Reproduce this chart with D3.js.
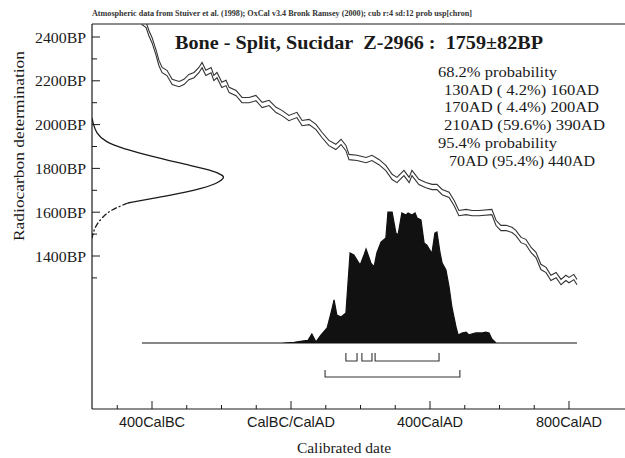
<!DOCTYPE html>
<html><head><meta charset="utf-8">
<script src="https://cdn.jsdelivr.net/npm/d3@7"></script>
<style>body{margin:0;background:#fff}svg{display:block}</style>
</head><body>
<svg id="c" width="625" height="458"></svg>
<script>
// ---- data ----
const curveYear = [-430,-417,-409,-400,-388,-380,-371,-357,-342,-322,-308,-294,-279,-265,-256,-245,-230,-222,-213,-199,-187,-178,-158,-141,-121,-101,-83,-63,-43,-26,-6,17,32,52,72,89,109,129,144,158,167,190,216,233,253,273,291,305,325,340,348,368,388,406,420,435,455,470,483,504,521,541,578,590,604,619,636,647,662,676,691,705,719,734,748,763,777,791,800,814,823];
const curveBP = [2470,2455,2418,2386,2327,2281,2249,2236,2195,2185,2195,2217,2226,2249,2272,2236,2249,2213,2226,2181,2190,2158,2144,2112,2112,2121,2090,2099,2067,2053,2030,2044,2007,2012,1989,1953,1916,1898,1921,1893,1852,1848,1838,1848,1829,1802,1761,1747,1779,1747,1779,1738,1724,1715,1715,1692,1679,1640,1596,1601,1596,1596,1601,1551,1528,1528,1519,1505,1473,1464,1427,1405,1350,1336,1300,1313,1281,1300,1290,1304,1281];
const curveSigma = 12;

const distYear = [-429,-26,9,32,49,60,72,86,104,115,124,132,144,158,164,170,181,199,210,216,230,239,247,259,273,279,291,302,308,319,331,337,348,357,363,374,383,391,403,406,414,420,429,435,446,455,463,475,481,492,504,512,532,547,561,570,578,590,823];
const distProb = [0,0,0.005,0.015,0.02,0.068,0.008,0.06,0.114,0.227,0.326,0.212,0.197,0.227,0.455,0.682,0.667,0.591,0.667,0.712,0.606,0.576,0.682,0.765,0.795,0.992,0.992,0.833,0.818,0.985,0.970,0.985,0.970,0.985,0.947,0.932,0.758,0.742,0.689,0.689,0.833,0.841,0.682,0.606,0.553,0.424,0.273,0.121,0.061,0.076,0.083,0.061,0.076,0.076,0.083,0.076,0.03,0,0];

const gaussBP = [2030,2007,1962,1921,1893,1852,1816,1793,1770,1757,1724,1692,1665,1642,1610,1578,1541,1505,1480];
const gaussProb = [0,0.008,0.03,0.1,0.22,0.47,0.72,0.89,0.98,1.0,0.92,0.72,0.47,0.27,0.14,0.08,0.03,0.008,0];

const range68 = [[158,190],[204,233],[242,426]];
const range95 = [[98,486]];

const xMajor = [-400,0,400,800];
const xMajorLabels = ["400CalBC","CalBC/CalAD","400CalAD","800CalAD"];
const xMinor = [-500,-300,-200,-100,100,200,300,500,600,700];
const yMajor = [2400,2200,2000,1800,1600,1400];
const yMajorLabels = ["2400BP","2200BP","2000BP","1800BP","1600BP","1400BP"];
const yMinor = [2300,2100,1900,1700,1500,1300];

const headerText = "Atmospheric data from Stuiver et al. (1998); OxCal v3.4 Bronk Ramsey (2000); cub r:4 sd:12 prob usp[chron]";
const titleText = "Bone - Split, Sucidar\u00a0\u00a0Z-2966 :\u00a0\u00a01759\u00b182BP";
const noteLines = ["68.2% probability","130AD ( 4.2%) 160AD","170AD ( 4.4%) 200AD","210AD (59.6%) 390AD","95.4% probability","70AD (95.4%) 440AD"];

// ---- layout ----
const svg = d3.select("#c");
const L = 92, T = 24, B = 409, R = 625;
const x = d3.scaleLinear().domain([-400,800]).range([152,569]);
const y = d3.scaleLinear().domain([2400,1400]).range([37,256]);
const gx = d3.scaleLinear().domain([0,1]).range([L,225]);
const py = d3.scaleLinear().domain([0,1]).range([343,211]);
const ink = "#1a1a1a";
const serif = "'Liberation Serif','Times New Roman',serif";
const sans = "'Liberation Sans',Arial,sans-serif";

svg.append("defs").append("clipPath").attr("id","clip")
  .append("rect").attr("x",L).attr("y",T).attr("width",R-L).attr("height",B-T);

// frame
svg.append("line").attr("x1",L).attr("x2",R).attr("y1",T).attr("y2",T).attr("stroke",ink).attr("stroke-width",1.2);
svg.append("line").attr("x1",L).attr("x2",L).attr("y1",T).attr("y2",B).attr("stroke",ink).attr("stroke-width",1.2);
svg.append("line").attr("x1",L).attr("x2",R).attr("y1",B).attr("y2",B).attr("stroke",ink).attr("stroke-width",1.2);

// y ticks (inside)
svg.selectAll(".ymj").data(yMajor).enter().append("line")
  .attr("x1",L).attr("x2",L+8).attr("y1",d=>y(d)).attr("y2",d=>y(d)).attr("stroke",ink).attr("stroke-width",1);
svg.selectAll(".ymn").data(yMinor).enter().append("line")
  .attr("x1",L).attr("x2",L+5).attr("y1",d=>y(d)).attr("y2",d=>y(d)).attr("stroke",ink).attr("stroke-width",1);
svg.selectAll(".ylab").data(yMajor).enter().append("text")
  .attr("x",L-6).attr("y",d=>y(d)+5.5).attr("text-anchor","end")
  .attr("font-family",serif).attr("font-size",15.5).attr("fill",ink)
  .attr("textLength",51).attr("lengthAdjust","spacingAndGlyphs")
  .text((d,i)=>yMajorLabels[i]);

// x ticks (inside)
svg.selectAll(".xmj").data(xMajor).enter().append("line")
  .attr("x1",d=>x(d)).attr("x2",d=>x(d)).attr("y1",B).attr("y2",B-8).attr("stroke",ink).attr("stroke-width",1);
svg.selectAll(".xmn").data(xMinor).enter().append("line")
  .attr("x1",d=>x(d)).attr("x2",d=>x(d)).attr("y1",B).attr("y2",B-4).attr("stroke",ink).attr("stroke-width",1);
svg.selectAll(".xlab").data(xMajor).enter().append("text")
  .attr("x",d=>x(d)).attr("y",427).attr("text-anchor","middle")
  .attr("font-family",sans).attr("font-size",14.5).attr("fill",ink)
  .text((d,i)=>xMajorLabels[i]);

// axis titles
svg.append("text").attr("x",344).attr("y",453).attr("text-anchor","middle")
  .attr("font-family",serif).attr("font-size",15.5).attr("fill",ink).text("Calibrated date");
svg.append("text").attr("transform","translate(24,146) rotate(-90)").attr("text-anchor","middle")
  .attr("font-family",serif).attr("font-size",15.5).attr("fill",ink)
  .attr("textLength",190).attr("lengthAdjust","spacingAndGlyphs").text("Radiocarbon determination");

// header + title
svg.append("text").attr("x",L).attr("y",16).attr("font-family",serif).attr("font-size",7.5).attr("font-weight","bold")
  .attr("fill","#333").attr("textLength",380).attr("lengthAdjust","spacingAndGlyphs").text(headerText);
svg.append("text").attr("x",175).attr("y",49).attr("font-family",serif).attr("font-size",18.5).attr("font-weight","bold")
  .attr("fill",ink).attr("textLength",368).attr("lengthAdjust","spacingAndGlyphs").text(titleText);

// notes
const noteX = [438,444,444,444,438,449];
const noteW = [119,155,155,161,119,146];
svg.selectAll(".note").data(noteLines).enter().append("text")
  .attr("x",(d,i)=>noteX[i]).attr("y",(d,i)=>77+i*17.7)
  .attr("font-family",serif).attr("font-size",15).attr("fill",ink)
  .attr("textLength",(d,i)=>noteW[i]).attr("lengthAdjust","spacingAndGlyphs")
  .attr("xml:space","preserve").style("white-space","pre").text(d=>d);

const plot = svg.append("g").attr("clip-path","url(#clip)");

// calibration curve envelope
const cdata = curveYear.map((d,i)=>({yr:d,bp:curveBP[i]}));
[curveSigma,-curveSigma].forEach(off=>{
  plot.append("path").datum(cdata)
    .attr("d",d3.line().x(d=>x(d.yr)).y(d=>y(d.bp+off)))
    .attr("fill","none").attr("stroke","#333").attr("stroke-width",1.1);
});

// radiocarbon gaussian
const gdata = gaussBP.map((d,i)=>({bp:d,p:gaussProb[i]}));
const gline = d3.line().x(d=>gx(d.p)).y(d=>y(d.bp)).curve(d3.curveBasis);
plot.append("path").datum(gdata.filter(d=>d.bp>=1642))
  .attr("d",gline).attr("fill","none").attr("stroke",ink).attr("stroke-width",1.3);
plot.append("path").datum(gdata.filter(d=>d.bp<=1642))
  .attr("d",gline).attr("fill","none").attr("stroke",ink).attr("stroke-width",1.3).attr("stroke-dasharray","6,2,2,2");

// calibrated distribution
const ddata = distYear.map((d,i)=>({yr:d,p:distProb[i]}));
plot.append("path").datum(ddata)
  .attr("d",d3.area().x(d=>x(d.yr)).y0(py(0)).y1(d=>py(d.p)))
  .attr("fill","#111").attr("stroke","#111").attr("stroke-width",1.2);

// ranges brackets
function bracket(r, yb, h){
  r.forEach(([a,b])=>{
    svg.append("path")
      .attr("d",`M${x(a)},${yb-h}V${yb}H${x(b)}V${yb-h}`)
      .attr("fill","none").attr("stroke","#333").attr("stroke-width",1.1);
  });
}
bracket(range68, 361, 8);
bracket(range95, 377, 7);
</script>
</body></html>
